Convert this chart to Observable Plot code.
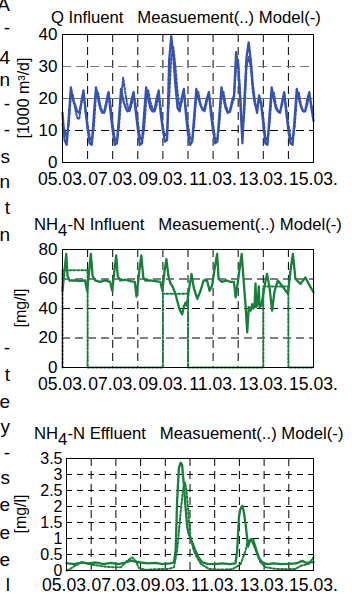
<!DOCTYPE html>
<html><head><meta charset="utf-8">
<script src="https://cdn.jsdelivr.net/npm/d3@7"></script>
<script src="https://cdn.jsdelivr.net/npm/@observablehq/plot@0.6"></script>
<style>
html,body{margin:0;padding:0;background:#fff;}
#root{position:relative;width:352px;height:595px;overflow:hidden;font-family:'Liberation Sans',Arial,sans-serif;color:#000;}
.panel{position:absolute;left:0;}
.panel svg text{font-family:'Liberation Sans',Arial,sans-serif !important;font-size:17px !important;}
.panel svg .xax text{font-size:17.6px !important;}
.p3 svg .yax text{font-size:16px !important;}
.title{position:absolute;font-size:16.7px;line-height:17px;white-space:pre;}
.ylab{position:absolute;font-size:16px;line-height:16px;white-space:pre;transform:translate(-50%,-50%) rotate(-90deg);}
.frag{position:absolute;left:-40px;width:50px;text-align:right;font-size:19px;line-height:19px;}
</style></head><body><div id="root"></div>
<script>
// ---------- data ----------
const xTickDays = [5, 7, 9, 11, 13, 15];
const xTickLabels = ["05.03.", "07.03.", "09.03.", "11.03.", "13.03.", "15.03."];
const gridDays = [6, 7, 8, 9, 10, 11, 12, 13, 14];

// Q influent, 2-hour samples from 05.03. 00:00 to 15.03. 00:00
const qModel = [
  15.5, 7, 5.5, 14, 23.5, 19.5, 18, 16, 15.5, 18.5, 22.5, 16,
  10.5, 6, 5.5, 15, 23.5, 20, 17, 15.5, 16, 19, 22, 15.5,
  10, 5.5, 6, 14, 23, 19.5, 17.5, 16, 16.5, 19.5, 22, 16,
  10.5, 5.5, 6, 15, 23.5, 20, 17, 16, 16, 20, 22.5, 15,
  10, 6.5, 7, 32, 39.5, 33, 24, 17, 16, 20, 23, 15,
  9, 5.5, 6.5, 15, 23, 20, 18, 16.5, 17, 20, 22, 15,
  10, 6, 6.5, 15, 23.5, 20, 17, 15.5, 16, 19, 21, 34.5,
  30, 19, 6, 20, 33, 37.5, 32, 24, 19, 15.5, 21, 18,
  12, 6, 5.5, 15, 23.5, 20, 17, 16, 15.5, 19, 22, 15.5,
  10, 6, 5.5, 14, 23, 20, 17.5, 16, 16, 19.5, 22, 17,
  13
];
const qMeas = [
  12, 10, 8, 12, 21, 21, 17, 14, 13.5, 19, 22, 17,
  12, 8, 6.5, 11, 21, 22, 18, 16, 15.5, 18, 22, 18,
  12, 7.5, 6.5, 11, 20, 26.5, 22, 18, 16, 18, 21, 18,
  13, 8, 7, 10, 19, 22.5, 19, 17, 16, 18, 21, 17,
  11, 8.5, 9, 20, 33, 36, 30, 22, 17, 19, 22, 17,
  12, 7.5, 7, 12, 21, 22, 18, 16.5, 16, 19, 21.5, 17,
  12, 7.5, 7, 12, 21, 22, 18, 16, 15.5, 18, 20, 30,
  32, 21, 10, 16, 30, 33, 30, 22, 18, 17, 20, 19,
  14, 8, 7, 12, 21, 22, 18, 16, 16, 18, 21.5, 17,
  12, 8, 7, 11, 20, 22, 18, 16, 16, 18, 21, 18,
  15
];
const qTime = d3.range(qModel.length).map(i => 5 + i / 12);

// NH4-N influent model
const n2ModelDay = [5.0,5.08,5.15,5.2,5.28,5.5,5.7,5.9,5.98,6.06,6.13,6.2,6.3,6.5,6.7,6.9,6.98,7.07,7.14,7.2,7.3,7.5,7.7,7.88,7.95,8.05,8.14,8.22,8.3,8.5,8.7,8.9,8.98,9.07,9.14,9.22,9.3,9.38,9.5,9.62,9.7,9.77,9.83,9.9,9.95,10.03,10.14,10.23,10.37,10.5,10.62,10.76,10.86,10.96,11.08,11.16,11.22,11.35,11.55,11.7,11.83,11.9,11.97,12.08,12.14,12.22,12.29,12.36,12.42,12.49,12.56,12.6,12.65,12.69,12.72,12.78,12.82,12.85,12.92,12.98,13.09,13.15,13.25,13.35,13.45,13.58,13.74,13.85,13.98,14.1,14.18,14.28,14.48,14.68,14.81,15.0];
const n2Model    = [52,66,77,62,59,59,58.5,59,52,65,77,62,59,58,59,58,52,66,76,62,59,59.5,58.5,58,48,64,76,61,59,59,58.5,58,52,66,73.5,62,57,55,50,42,38,36,41,44,42,52,63.5,54,46.5,52,59,59,52,55.6,69,77,60,58,59,58,58,47.6,56,70,77,58,43,23.8,41,38.5,43,40,41,57,41,44,55,41,42,47.6,59,63.5,54,38.5,52,59,55.6,53,50,68,77,60,56.7,61,56.7,51];
// NH4-N influent measurement (daily composite, 0 = no sample)
const n2MeasDay = [5, 5, 6, 6, 9, 9, 10, 10, 13, 13, 14, 14, 15];
const n2Meas    = [0, 66, 66, 0, 0, 50, 50, 0, 0, 55, 55, 0, 0];

// NH4-N effluent
const n3ModelDay = [5.0,5.3,5.6,5.9,6.2,6.5,6.8,7.1,7.4,7.6,7.8,8.0,8.3,8.6,8.9,9.2,9.35,9.42,9.48,9.55,9.62,9.68,9.75,9.82,9.89,9.95,10.09,10.22,10.35,10.49,10.7,11.0,11.3,11.6,11.84,11.91,11.98,12.04,12.11,12.17,12.25,12.35,12.42,12.5,12.56,12.65,12.78,12.92,13.1,13.4,13.7,14.0,14.3,14.54,14.7,15.0];
const n3Model    = [0.23,0.2,0.25,0.22,0.25,0.2,0.24,0.2,0.25,0.31,0.28,0.25,0.22,0.24,0.2,0.22,0.25,0.65,2.2,3.2,3.37,3.3,2.7,1.97,1.35,1.14,0.88,0.62,0.41,0.26,0.21,0.2,0.22,0.2,0.22,0.62,1.66,1.92,2.02,1.87,1.45,0.75,0.9,0.98,0.96,0.72,0.41,0.26,0.2,0.22,0.2,0.21,0.22,0.3,0.24,0.26];
const n3MeasDay  = [5.0,5.15,5.35,5.64,5.9,6.3,6.6,6.9,7.2,7.45,7.66,7.8,7.93,8.2,8.6,9.14,9.35,9.48,9.6,9.72,9.8,9.86,9.95,10.02,10.15,10.28,10.45,10.76,11.2,11.71,11.85,12.05,12.25,12.32,12.45,12.55,12.72,12.85,13.06,13.5,14.0,14.27,14.5,14.8,15.0];
const n3Meas     = [0.0,0.05,0.15,0.26,0.2,0.15,0.12,0.1,0.1,0.3,0.41,0.3,0.08,0.02,0.04,0.05,0.1,0.62,1.66,2.55,2.75,2.49,1.66,1.04,0.62,0.41,0.2,0.05,0.03,0.04,0.1,0.2,0.62,0.88,0.98,0.85,0.52,0.26,0.1,0.05,0.04,0.05,0.15,0.2,0.41];

const yTicks1 = [0, 10, 20, 30, 40];
const yTicks2 = [0, 20, 40, 60, 80];
const yTicks3 = [0, 0.5, 1, 1.5, 2, 2.5, 3, 3.5];
const yTickLabels3 = ["0", "0.5", "1", "1.5", "2", "2.5", "3", "3.5"];

const titles = [
  "Q Influent   Measuement(..) Model(-)",
  "NH<span style=\"position:relative;top:6px\">4</span>-N Influent   Measuement(..) Model(-)",
  "NH<span style=\"position:relative;top:6px\">4</span>-N Effluent   Measuement(..) Model(-)"
];
const yLabels = ["[1000 m³/d]", "[mg/l]", "[mg/l]"];

// clipped text of the neighbouring page column
const fragChars = ["A","-","4","n","-","-","s","n","t","n","-","t","e","y","-","s","e","e","e","l"];
const fragY     = [5,28,58,80,104,130,157,182,208,235,348,375,402,427,453,478,505,533,560,585];

// ---------- drawing ----------
const BLUE = "#3552b0";
const GREEN = "#16803a";
const root = document.getElementById("root");

function xFmt(d) { return xTickLabels[xTickDays.indexOf(d)]; }

function makePanel(o) {
  const svg = Plot.plot({
    width: 352,
    height: o.height,
    marginTop: o.marginTop,
    marginBottom: o.marginBottom,
    marginLeft: o.marginLeft,
    marginRight: 39,
    style: {fontFamily: "'Liberation Sans', Arial, sans-serif", fontSize: "17px", color: "black", background: "transparent", overflow: "visible"},
    x: {domain: [5, 15], ticks: xTickDays, tickFormat: xFmt, tickSize: 0, tickPadding: o.xPad, label: null},
    y: {domain: o.yDomain, ticks: o.yTicks, tickFormat: o.yFmt, tickSize: 0, tickPadding: o.yPad, label: null},
    marks: o.marks
  });
  // tag axis groups so CSS can address them
  svg.querySelectorAll("g[aria-label^='y-axis']").forEach(g => g.classList.add("yax"));
  svg.querySelectorAll("g[aria-label^='x-axis']").forEach(g => g.classList.add("xax"));
  const div = document.createElement("div");
  div.className = "panel " + o.cls;
  div.style.top = o.top + "px";
  div.appendChild(svg);
  root.appendChild(div);
}

const vGrid = Plot.ruleX(gridDays, {stroke: "black", strokeWidth: 1, strokeDasharray: "8,5"});

// Panel 1: Q influent
makePanel({
  cls: "p1", top: 0, height: 190, marginTop: 34, marginBottom: 28, marginLeft: 62, yPad: 5, xPad: 10,
  yDomain: [0, 40], yTicks: yTicks1, yFmt: d => String(d),
  marks: [
    vGrid,
    Plot.ruleY([10], {stroke: "black", strokeDasharray: "8,5"}),
    Plot.ruleY([20], {stroke: "#777"}),
    Plot.ruleY([30], {stroke: "#777", strokeDasharray: "9,5"}),
    Plot.line(qTime, {x: d => d, y: (d, i) => qMeas[i], stroke: BLUE, strokeWidth: 2, strokeDasharray: "2,2"}),
    Plot.line(qTime, {x: d => d, y: (d, i) => qModel[i], stroke: BLUE, strokeWidth: 2.3}),
    Plot.frame({stroke: "black"})
  ]
});

// Panel 2: NH4-N influent
makePanel({
  cls: "p2", top: 190, height: 200, marginTop: 59, marginBottom: 23, marginLeft: 62, yPad: 5, xPad: 10,
  yDomain: [0, 80], yTicks: yTicks2, yFmt: d => String(d),
  marks: [
    vGrid,
    Plot.ruleY([20, 40, 60], {stroke: "black", strokeDasharray: "8,5"}),
    Plot.line(n2MeasDay, {x: d => d, y: (d, i) => n2Meas[i], stroke: GREEN, strokeWidth: 2, strokeDasharray: "2,2"}),
    Plot.line(n2ModelDay, {x: d => d, y: (d, i) => n2Model[i], stroke: GREEN, strokeWidth: 2.3}),
    Plot.frame({stroke: "black"})
  ]
});

// Panel 3: NH4-N effluent
makePanel({
  cls: "p3", top: 390, height: 205, marginTop: 68, marginBottom: 25, marginLeft: 66, yPad: 4, xPad: 8,
  yDomain: [0, 3.5], yTicks: yTicks3, yFmt: d => yTickLabels3[yTicks3.indexOf(d)],
  marks: [
    vGrid,
    Plot.ruleY([0.5, 1, 1.5, 2, 2.5, 3], {stroke: "black", strokeDasharray: "6,5"}),
    Plot.line(n3MeasDay, {x: d => d, y: (d, i) => n3Meas[i], stroke: GREEN, strokeWidth: 2, strokeDasharray: "2,2"}),
    Plot.line(n3ModelDay, {x: d => d, y: (d, i) => n3Model[i], stroke: GREEN, strokeWidth: 2.3}),
    Plot.frame({stroke: "black"})
  ]
});

// titles
const titlePos = [[51, 9], [34, 216], [34, 425]];
titles.forEach((t, i) => {
  const d = document.createElement("div");
  d.className = "title";
  d.style.left = titlePos[i][0] + "px";
  d.style.top = titlePos[i][1] + "px";
  d.innerHTML = t;
  root.appendChild(d);
});

// y labels
const yLabPos = [[24, 98], [21, 308], [21, 514]];
yLabels.forEach((t, i) => {
  const d = document.createElement("div");
  d.className = "ylab";
  d.style.left = yLabPos[i][0] + "px";
  d.style.top = yLabPos[i][1] + "px";
  d.textContent = t;
  root.appendChild(d);
});

// fragments of page text on the left edge
fragChars.forEach((c, i) => {
  const d = document.createElement("div");
  d.className = "frag";
  d.style.top = (fragY[i] - 10) + "px";
  d.textContent = c;
  root.appendChild(d);
});
</script></body></html>
